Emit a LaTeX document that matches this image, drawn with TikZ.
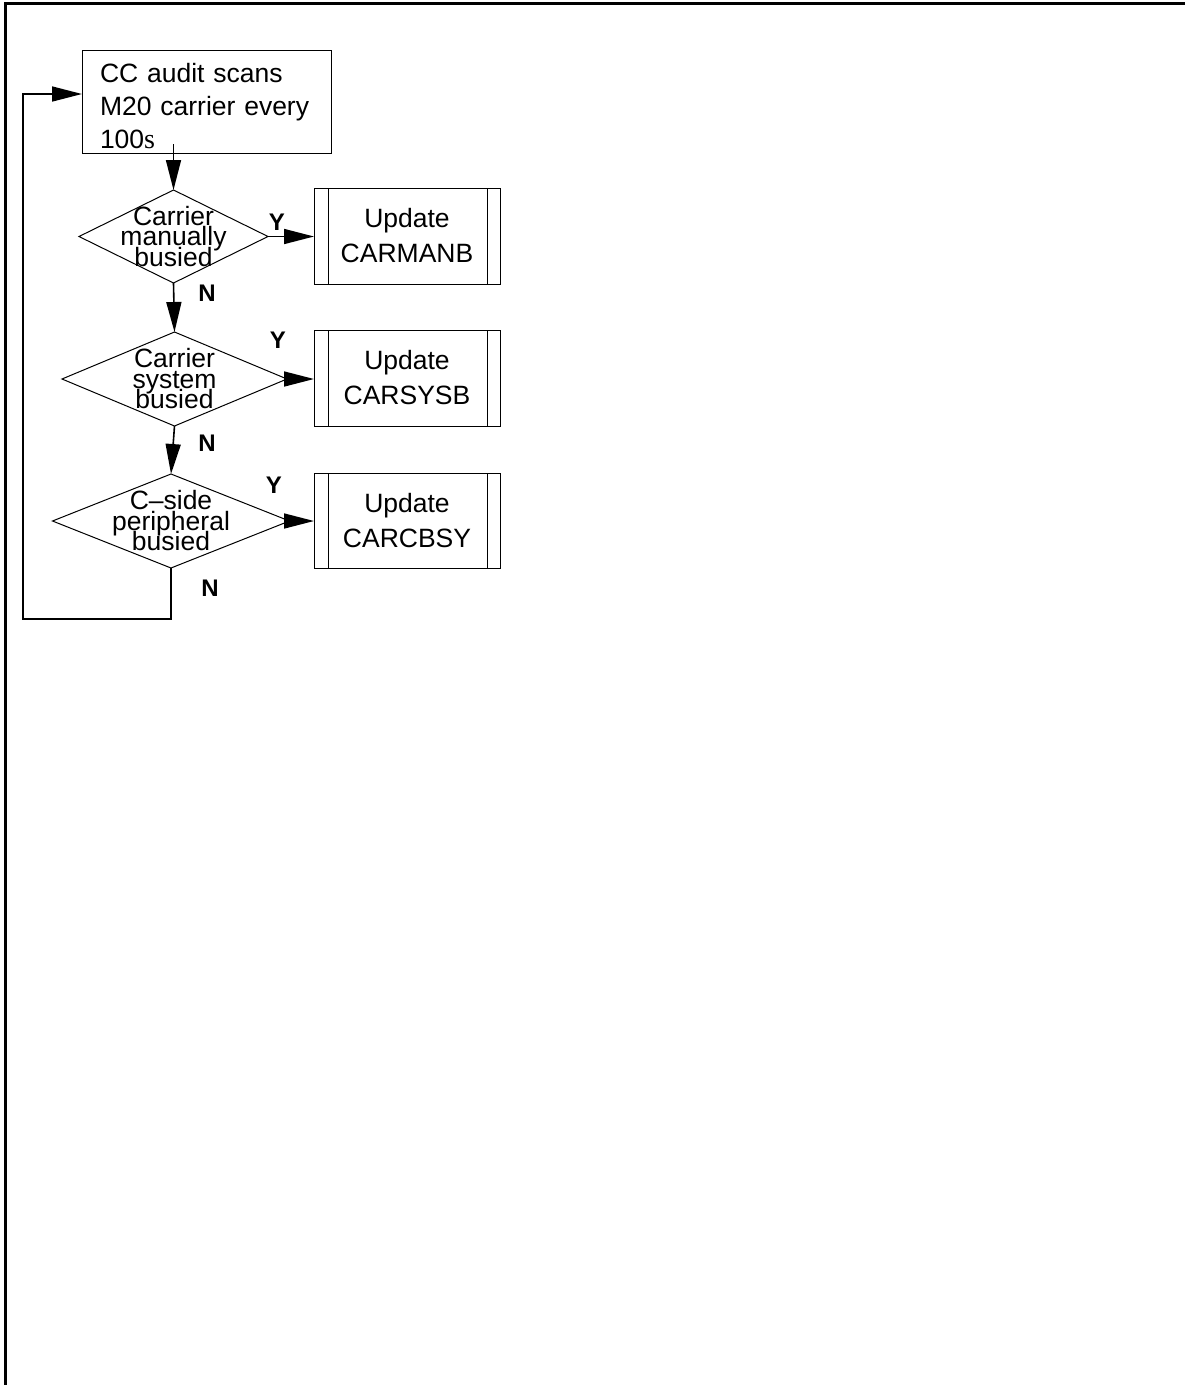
\documentclass[tikz,border=0pt]{standalone}
\usepackage{fontspec}
\setmainfont{Liberation Sans}
\newfontfamily\serifs{Liberation Serif}
\usetikzlibrary{shapes.geometric,arrows.meta}
\newcommand\tightlines{\lineskiplimit=-100pt\relax\lineskip=0pt\relax}
\begin{document}
\begin{tikzpicture}[x=1pt,y=-1pt,
  topbox/.style={draw, line width=1pt, rectangle, outer sep=0pt, inner xsep=18pt, inner ysep=0pt,
    minimum width=249pt, minimum height=103pt, text width=213pt, align=left,
    font=\fontsize{26.5}{33}\selectfont},
  dia/.style={draw, line width=1pt, diamond, outer sep=0pt, inner sep=0pt, minimum height=94pt},
  dtext/.style={align=center, inner sep=0pt, font=\fontsize{26.5}{20.5}\selectfont\tightlines},
  ubox/.style={draw, line width=1pt, rectangle, outer sep=0pt, inner sep=0pt,
    minimum width=186pt, minimum height=96pt, align=center,
    font=\fontsize{26.5}{35}\selectfont},
  yn/.style={inner sep=0pt, font=\bfseries\fontsize{24}{24}\selectfont},
  arr/.style={line width=1.6pt, -{Triangle[length=30pt,width=15pt]}}
]
\useasboundingbox (0,0) rectangle (1185,1385);
\draw[line width=3pt] (5,1385) |- (1185,3.5);

\node[topbox] (audit) at (206.5,101.5) {\rule{0pt}{29pt}CC audit scans\\M20 carrier every\\100{\serifs\fontsize{28}{33}\selectfont s}};

\node[dia, minimum width=189pt, minimum height=93pt,
  label={[dtext]center:{Carrier\\manually\\busied}}] (d1) at (173.5,236.5) {};
\node[dia, minimum width=225pt,
  label={[dtext]center:{Carrier\\system\\busied}}] (d2) at (174.5,379) {};
\node[dia, minimum width=237pt,
  label={[dtext]center:{C–side\\peripheral\\busied}}] (d3) at (171,521) {};

\node[ubox] (u1) at (407,236) {Update\\CARMANB};
\node[ubox] (u2) at (407,378) {Update\\CARSYSB};
\node[ubox, minimum height=95pt] (u3) at (407,520.5) {Update\\CARCBSY};
\foreach \bx in {u1,u2,u3}{
  \draw[line width=1pt] ([xshift=14pt]\bx.north west) -- ([xshift=14pt]\bx.south west);
  \draw[line width=1pt] ([xshift=-13pt]\bx.north east) -- ([xshift=-13pt]\bx.south east);
}

\node[yn] (y1) at (277,222) {Y};
\node[yn] (n1) at (207,293) {N};
\node[yn] (y2) at (278,340) {Y};
\node[yn] (n2) at (207,443) {N};
\node[yn] (y3) at (274,485) {Y};
\node[yn] (n3) at (210,588) {N};

\coordinate (lp) at (23,619);

\draw[arr] ([yshift=9pt]audit.south -| d1.north) -- (d1.north);
\draw[arr] (d1.east) -- (d1.east -| u1.west);
\draw[arr] (d2.east) -- (d2.east -| u2.west);
\draw[arr] (d3.east) -- (d3.east -| u3.west);
\draw[arr] (d1.south) -- (d2.north);
\draw[arr] (d2.south) -- (d3.north);
\draw[arr] (d3.south) |- (lp) |- ([yshift=7.5pt]audit.west);
\end{tikzpicture}
\end{document}
